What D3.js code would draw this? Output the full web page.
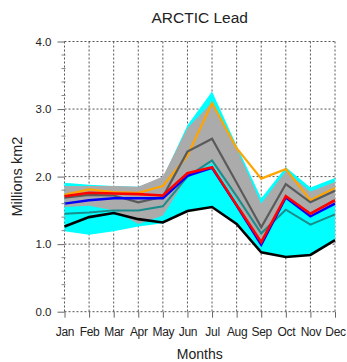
<!DOCTYPE html>
<html>
<head>
<meta charset="utf-8">
<script src="https://cdn.jsdelivr.net/npm/d3@7"></script>
<style>
  body { margin: 0; background: #fff; }
  svg { font-family: "Liberation Sans", Arial, sans-serif; }
</style>
</head>
<body>
<svg id="chart" width="347" height="362"></svg>
<script>
"use strict";

const months = ["Jan", "Feb", "Mar", "Apr", "May", "Jun", "Jul", "Aug", "Sep", "Oct", "Nov", "Dec"];
const yTicks = [0, 1, 2, 3, 4];

// shaded ranges
const cyanHigh = [1.91, 1.88, 1.86, 1.85, 1.98, 2.76, 3.26, 2.46, 1.68, 2.14, 1.84, 1.98];
const cyanLow = [1.19, 1.14, 1.19, 1.26, 1.31, 1.49, 1.55, 1.30, 0.88, 0.81, 0.84, 1.06];
const grayHigh = [1.86, 1.86, 1.86, 1.85, 2.00, 2.72, 3.10, 2.42, 1.60, 2.08, 1.78, 1.92];
const grayLow = [1.55, 1.57, 1.50, 1.30, 1.42, 2.00, 2.20, 1.65, 0.97, 1.68, 1.42, 1.60];

// lines
const orange = [1.73, 1.81, 1.77, 1.76, 1.86, 2.31, 3.09, 2.42, 1.97, 2.11, 1.65, 1.83];
const darkGray = [1.69, 1.73, 1.72, 1.62, 1.70, 2.37, 2.56, 1.91, 1.25, 1.89, 1.62, 1.79];
const teal = [1.45, 1.47, 1.50, 1.50, 1.56, 2.00, 2.24, 1.71, 1.16, 1.51, 1.29, 1.44];
const blue = [1.60, 1.65, 1.68, 1.68, 1.68, 2.01, 2.13, 1.57, 0.99, 1.69, 1.41, 1.60];
const red = [1.71, 1.76, 1.75, 1.74, 1.72, 2.05, 2.14, 1.58, 1.03, 1.71, 1.45, 1.65];
const black = [1.26, 1.40, 1.46, 1.37, 1.32, 1.49, 1.55, 1.30, 0.88, 0.81, 0.84, 1.06];

const svg = d3.select("#chart");
const plotL = 64.5, plotR = 335, plotT = 41.5, plotB = 311.7;

const x = d3.scalePoint().domain(months).range([plotL, plotR]);
const y = d3.scaleLinear().domain([0, 4]).range([plotB, plotT]);

const area = (hi, lo) => d3.area()
  .x((d, i) => x(months[i]))
  .y0((d, i) => y(lo[i]))
  .y1((d) => y(d))(hi);

const line = d3.line()
  .x((d, i) => x(months[i]))
  .y((d) => y(d));

// grid (dotted)
const grid = svg.append("g").attr("stroke", "#555").attr("stroke-width", 1).attr("stroke-dasharray", "2,2");
grid.selectAll("line.h").data(yTicks).enter().append("line")
  .attr("x1", plotL).attr("x2", plotR)
  .attr("y1", (d) => y(d)).attr("y2", (d) => y(d));
grid.selectAll("line.v").data(months).enter().append("line")
  .attr("x1", (d) => x(d)).attr("x2", (d) => x(d))
  .attr("y1", plotT).attr("y2", plotB);

// shaded bands
svg.append("path").attr("d", area(cyanHigh, cyanLow)).attr("fill", "#00ffff");
svg.append("path").attr("d", area(grayHigh, grayLow)).attr("fill", "#ababab");

const series = [
  { v: orange, c: "#ffa500", w: 2.2 },
  { v: darkGray, c: "#5a5a5a", w: 2.2 },
  { v: teal, c: "#1a8c8c", w: 2 },
  { v: blue, c: "#0000ff", w: 2.4 },
  { v: red, c: "#ff0000", w: 2.6 },
  { v: black, c: "#000000", w: 2.6 },
];
series.forEach((s) => {
  svg.append("path").attr("d", line(s.v))
    .attr("fill", "none").attr("stroke", s.c).attr("stroke-width", s.w)
    .attr("stroke-linejoin", "miter");
});

// axes
const yAxis = d3.axisLeft(y).tickValues(yTicks).tickFormat(d3.format(".1f")).tickSize(7).tickPadding(6);
const gy = svg.append("g").attr("transform", `translate(${plotL},0)`).call(yAxis);
const xAxis = d3.axisBottom(x).tickSize(6).tickPadding(10);
const gx = svg.append("g").attr("transform", `translate(0,${plotB})`).call(xAxis);
[gy, gx].forEach((g) => {
  g.select(".domain").remove();
  g.selectAll("line").attr("stroke", "#666");
  g.selectAll("text").attr("fill", "#222").attr("font-size", 11.5);
});
gx.selectAll("text").attr("font-size", 12).attr("letter-spacing", "-0.3");

// minor ticks on y
const minor = d3.range(0, 4.01, 0.2).filter((d) => Math.abs(d - Math.round(d)) > 0.01);
svg.append("g").selectAll("line").data(minor).enter().append("line")
  .attr("x1", plotL - 3).attr("x2", plotL + 1)
  .attr("y1", (d) => y(d)).attr("y2", (d) => y(d))
  .attr("stroke", "#888");

// titles
svg.append("text").attr("x", (plotL + plotR) / 2).attr("y", 23)
  .attr("text-anchor", "middle").attr("font-size", 15.5).attr("fill", "#222").text("ARCTIC Lead");
svg.append("text").attr("x", (plotL + plotR) / 2).attr("y", 359)
  .attr("text-anchor", "middle").attr("font-size", 14).attr("fill", "#222").text("Months");
svg.append("text").attr("transform", `translate(22,${(plotT + plotB) / 2}) rotate(-90)`)
  .attr("text-anchor", "middle").attr("font-size", 14.5).attr("fill", "#222").text("Millions km2");
</script>
</body>
</html>
